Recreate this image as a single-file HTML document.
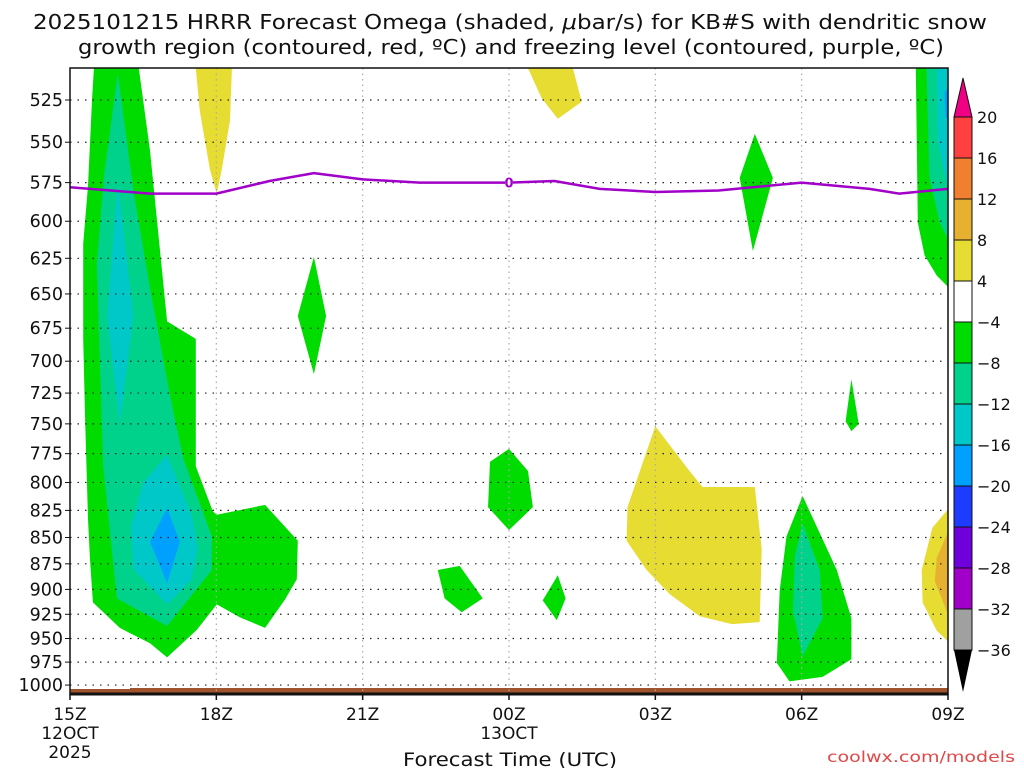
<!DOCTYPE html>
<html><head><meta charset="utf-8"><style>
html,body{margin:0;padding:0;background:#fff;}
svg text{font-family:"DejaVu Sans","Liberation Sans",sans-serif;}
</style></head><body>
<svg id="chart" width="1024" height="768" viewBox="0 0 1024 768" xmlns="http://www.w3.org/2000/svg">
<text x="33" y="29" font-size="20" textLength="954" lengthAdjust="spacingAndGlyphs" fill="#111">2025101215 HRRR Forecast Omega (shaded, <tspan font-style="italic">μ</tspan>bar/s) for KB#S with dendritic snow</text>
<text x="78" y="54" font-size="20" textLength="866" lengthAdjust="spacingAndGlyphs" fill="#111">growth region (contoured, red, ºC) and freezing level (contoured, purple, ºC)</text>
<g id="fills"></g>
<g id="grid"></g>
<g id="lines"></g>
<g id="axes"></g>
<g id="cbar"></g>
<text x="403" y="766" font-size="19" textLength="214" lengthAdjust="spacingAndGlyphs" fill="#111">Forecast Time (UTC)</text>
<text x="827" y="762" font-size="15" textLength="188" lengthAdjust="spacingAndGlyphs" fill="#e04848">coolwx.com/models</text>
</svg>
<script>
// ---- data ----
const levels = [525,550,575,600,625,650,675,700,725,750,775,800,825,850,875,900,925,950,975,1000];
const timeTicks = [0,3,6,9,12,15,18];
const timeLabels = ["15Z","18Z","21Z","00Z","03Z","06Z","09Z"];
const cbarValues = [20,16,12,8,4,-4,-8,-12,-16,-20,-24,-28,-32,-36];
const cbarColors = ["#ff4040","#f08030","#e6b030","#e6dc32","#ffffff","#00dc00","#00d28c","#00c8c8","#00a0ff","#1e3cff","#6e00dc","#a000c8","#a0a0a0"];
const fzHours = [0,1.64,3.0,4.09,5.0,6.0,7.17,9.0,9.93,10.86,12.0,13.3,15.0,16.39,17.0,18.0];
const fzLevel = [578,582,582,574,569,573,575,575,574,579,581,580,575,579,582,579];
// shaded omega regions as [hour, hPa] outlines
const green = "#00dc00", teal = "#00d28c", cyan = "#00c8c8", blue = "#00a0ff", yellow = "#e6dc32", orange = "#e6b030";
const regions = [
 {name:"upward-motion-main", c:green, p:[[0.49,507],[1.41,507],[1.64,555],[1.99,670],[2.58,683],[2.58,713],[2.58,786],[2.93,826],[3.01,829],[4.0,820],[4.67,853],[4.65,890],[4.41,910],[4.0,939],[3.48,928],[3.01,915],[2.6,941],[1.99,970],[1.64,955],[1.02,939],[0.47,913],[0.41,871],[0.37,833],[0.31,746],[0.27,683],[0.27,615],[0.37,577],[0.45,525]]},
 {name:"upward-motion-core", c:teal, p:[[0.98,510],[1.3,580],[1.64,646],[2.05,727],[2.32,779],[2.91,849],[2.91,881],[1.99,937],[0.96,909],[0.68,786],[0.55,629],[0.7,570]]},
 {name:"upward-motion-upper-max", c:cyan, p:[[0.98,575],[1.3,666],[1.02,750],[0.76,666]]},
 {name:"upward-motion-lower-max", c:cyan, p:[[1.99,776],[2.5,830],[2.62,860],[2.5,890],[1.99,915],[1.3,880],[1.25,840],[1.5,800]]},
 {name:"upward-motion-peak", c:blue, p:[[1.99,823],[2.25,854],[1.99,894],[1.64,854]]},
 {name:"sinking-18z", c:yellow, p:[[2.58,507],[3.32,507],[3.28,537],[3.11,567],[3.01,582],[2.87,567],[2.66,531]]},
 {name:"upward-20z", c:green, p:[[5.0,624],[5.25,666],[5.0,710],[4.67,666]]},
 {name:"sinking-00z-top", c:yellow, p:[[9.39,507],[10.31,507],[10.49,526],[10.0,536],[9.67,524]]},
 {name:"upward-00z", c:green, p:[[9.0,771],[9.39,790],[9.49,822],[9.0,843],[8.57,822],[8.61,782]]},
 {name:"upward-23z", c:green, p:[[7.54,881],[7.99,877],[8.46,909],[8.03,923],[7.68,909]]},
 {name:"upward-01z", c:green, p:[[10.0,886],[10.16,909],[9.98,931],[9.69,911]]},
 {name:"sinking-03z", c:yellow, p:[[12.0,752],[12.7,790],[12.97,804],[14.04,804],[14.18,861],[14.14,933],[13.57,935],[12.91,927],[12.3,905],[11.82,881],[11.41,853],[11.43,822]]},
 {name:"upward-05z", c:green, p:[[14.04,545],[14.41,572],[14.0,620],[13.73,572]]},
 {name:"upward-07z", c:green, p:[[16.02,714],[16.17,750],[16.02,756],[15.9,748]]},
 {name:"upward-06z", c:green, p:[[15.02,812],[15.72,881],[16.02,929],[16.02,972],[15.43,991],[14.75,996],[14.49,976],[14.55,901],[14.69,849]]},
 {name:"upward-06z-core", c:teal, p:[[15.02,837],[15.37,881],[15.43,929],[15.02,969],[14.82,921],[14.86,868]]},
 {name:"upward-09z", c:green, p:[[17.34,507],[18.0,507],[18.0,645],[17.77,637],[17.52,623],[17.38,601]]},
 {name:"upward-09z-core", c:teal, p:[[17.56,507],[18.0,507],[18.0,612],[17.83,601],[17.62,572]]},
 {name:"upward-09z-max", c:cyan, p:[[17.77,507],[18.0,507],[18.0,580],[17.79,549]]},
 {name:"upward-09z-peak", c:blue, p:[[17.93,521],[18.0,517],[18.0,537],[17.95,535]]},
 {name:"sinking-09z", c:yellow, p:[[18.0,824],[17.68,841],[17.46,881],[17.48,913],[17.77,942],[18.0,953]]},
 {name:"sinking-09z-core", c:orange, p:[[18.0,845],[17.77,869],[17.73,892],[18.0,925]]}
];
// ---- axes ----
const X0=70, X1=948, YT=68, YB=694;
function xs(h){return X0+(X1-X0)*h/18;}
function ys(p){return 100+908*Math.log(p/525);}
const NS="http://www.w3.org/2000/svg";
function mk(tag,attrs,parent){const e=document.createElementNS(NS,tag);for(const k in attrs)e.setAttribute(k,attrs[k]);parent.appendChild(e);return e;}
const fills=document.getElementById('fills'), grid=document.getElementById('grid'), lines=document.getElementById('lines'), axes=document.getElementById('axes'), cbar=document.getElementById('cbar');
regions.forEach(r=>{
  const pts=r.p.map(q=>xs(q[0]).toFixed(1)+","+Math.max(YT,Math.min(YB,ys(q[1]))).toFixed(1)).join(" ");
  const el=mk('polygon',{points:pts,fill:r.c},fills);
  
  
});
// ground
const g1=mk('path',{d:`M${X0} 689 L130 689 L130 688 L${X1} 688 L${X1} ${YB} L${X0} ${YB} Z`,fill:"#a0522d"},fills);


// grid
levels.forEach(p=>{
  const y=ys(p);
  const l=mk('line',{x1:X0,x2:X1,y1:y,y2:y,stroke:"#222","stroke-width":1.2,"stroke-dasharray":"1.5 6"},grid);
  
  
  const t=mk('text',{x:63,y:y+6,"font-size":17.5,"text-anchor":"end",fill:"#111"},axes);
  t.textContent=p;
  
  
  const tk=mk('line',{x1:X0-5,x2:X0,y1:y,y2:y,stroke:"#111","stroke-width":1},axes);
  
  
});
timeTicks.forEach((h,i)=>{
  const x=xs(h);
  if(i>0&&i<timeTicks.length-1){
    const v=mk('line',{x1:x,x2:x,y1:YT,y2:YB,stroke:"#aaa","stroke-width":1.2,"stroke-dasharray":"1.5 4"},grid);
    
    
  }
  const tk=mk('line',{x1:x,x2:x,y1:YB,y2:YB+6,stroke:"#111","stroke-width":1.5},axes);
  
  
  const t=mk('text',{x:x,y:720,"font-size":17,"text-anchor":"middle",fill:"#111"},axes);
  t.textContent=timeLabels[i];
  
  
});
[["12OCT",xs(0),739],["2025",xs(0),758],["13OCT",xs(9),739]].forEach(a=>{
  const t=mk('text',{x:a[1],y:a[2],"font-size":17,"text-anchor":"middle",fill:"#111"},axes);
  t.textContent=a[0];
  
  
});
// freezing line
const fd=fzHours.map((h,i)=>(i?"L":"M")+xs(h).toFixed(1)+" "+ys(fzLevel[i]).toFixed(1)).join(" ");
const fl=mk('path',{d:fd,fill:"none",stroke:"#a000c8","stroke-width":2.5,"stroke-linejoin":"round"},lines);


const fr=mk('rect',{x:xs(9)-4,y:ys(fzLevel[7])-7,width:8,height:13,fill:"#fff"},lines);


const ft=mk('text',{x:xs(9),y:ys(fzLevel[7])+5,"font-size":13,"font-weight":"bold","text-anchor":"middle",fill:"#a000c8"},lines);
ft.textContent="0";


// frame
const fr2=mk('rect',{x:X0,y:YT,width:X1-X0,height:YB-YT,fill:"none",stroke:"#111","stroke-width":1.5},axes);


const xl=mk('line',{x1:X0,x2:X1,y1:YB,y2:YB,stroke:"#111","stroke-width":3},axes);


// colorbar
const CX=954, CW=18, CT=117, CH=41;
cbarColors.forEach((c,i)=>{
  const r=mk('rect',{x:CX,y:CT+i*CH,width:CW,height:CH,fill:c,stroke:"#111","stroke-width":1},cbar);
  
  
});
const CB=CT+cbarColors.length*CH;
const tt=mk('polygon',{points:`${CX},${CT} ${CX+CW},${CT} ${CX+CW/2},78`,fill:"#f00082",stroke:"#111","stroke-width":1},cbar);


const bt=mk('polygon',{points:`${CX},${CB} ${CX+CW},${CB} ${CX+CW/2},692`,fill:"#000"},cbar);


cbarValues.forEach((v,i)=>{
  const t=mk('text',{x:977,y:CT+i*CH+6,"font-size":16,fill:"#111"},cbar);
  t.textContent=v<0?"−"+(-v):String(v);
  
  
});
</script>
</body></html>
